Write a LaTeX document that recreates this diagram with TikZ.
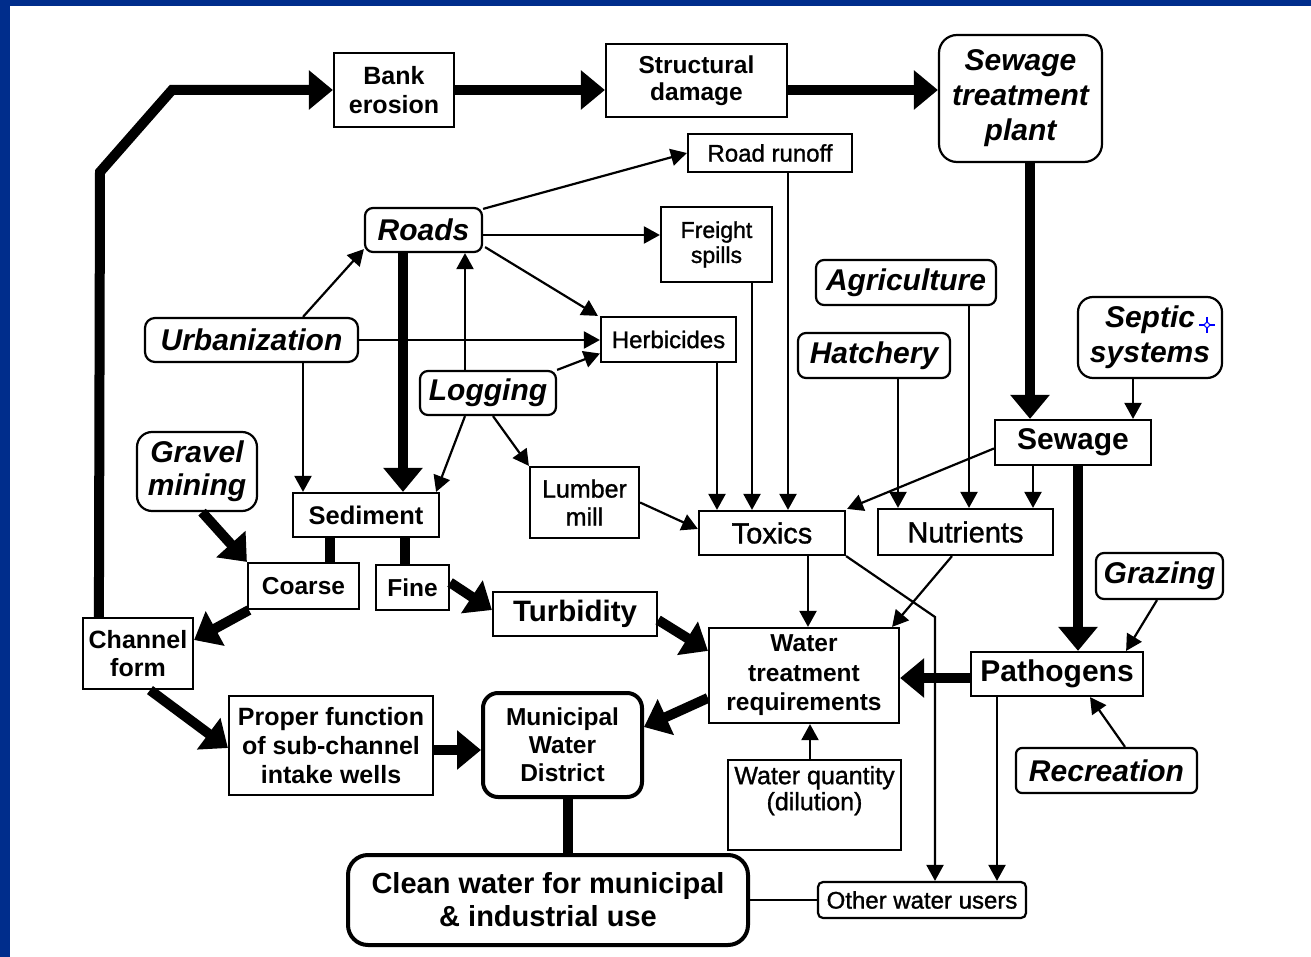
\documentclass[tikz,border=0pt]{standalone}
\usepackage{fontspec}
\setmainfont{Liberation Sans}
\newfontfamily\medfont[FakeBold=1.2]{Liberation Sans}
\usetikzlibrary{arrows.meta,calc}
\definecolor{frameblue}{RGB}{0,45,140}
\newcommand\fsz[2]{\fontsize{#1}{#2}\selectfont}
\tikzset{
  box/.style={draw, line width=2.2pt, inner sep=0pt, align=center},
  rbox/.style={box, rounded corners=#1}, rbox/.default=8pt,
  rfont/.style={font=\fsz{24}{26}\medfont},
  ifont/.style={font=\fsz{30}{35}\bfseries\itshape},
  thinarr/.style={line width=2.2pt, -{Triangle[length=16pt,width=17pt]}},
  thickarr/.style={line width=10pt, line join=miter, -{Triangle[length=24pt,width=38pt]}},
  thinline/.style={line width=2.2pt},
  thickline/.style={line width=10pt},
}
\begin{document}
\begin{tikzpicture}[x=1pt,y=-1pt]
\fill[frameblue] (0,0) rectangle (1311,957);
\fill[white] (10,6) rectangle (1311,957);
\useasboundingbox (0,0) rectangle (1311,957);

% nodes
\node[box,font=\fsz{25}{29}\bfseries,minimum width=120pt,minimum height=74pt] (bank) at (394,90) {Bank\\erosion};
\node[box,font=\fsz{24.5}{27}\bfseries,minimum width=181pt,minimum height=73pt] (struct) at (696.5,80.5) {Structural\\damage};
\node[rbox=18pt,ifont,minimum width=163pt,minimum height=127pt] (stp) at (1020.5,98.5) {Sewage\\treatment\\plant};
\node[box,rfont,minimum width=164pt,minimum height=38pt] (runoff) at (770,153) {Road runoff};
\node[box,font=\fsz{23}{25}\medfont,minimum width=111pt,minimum height=75pt] (freight) at (716.5,244.5) {Freight\\spills};
\node[rbox=8pt,ifont,minimum width=117pt,minimum height=44pt] (roads) at (423.5,230) {Roads};
\node[rbox=10pt,ifont,minimum width=213pt,minimum height=44pt] (urban) at (251.5,340) {Urbanization};
\node[box,rfont,minimum width=135pt,minimum height=45pt] (herb) at (668.5,339.5) {Herbicides};
\node[rbox=8pt,ifont,minimum width=136pt,minimum height=44pt] (logging) at (488,393) {Logging};
\node[rbox=8pt,ifont,minimum width=180pt,minimum height=45pt] (agri) at (906,282.5) {Agriculture};
\node[rbox=8pt,ifont,minimum width=152pt,minimum height=45pt] (hatch) at (874,355.5) {Hatchery};
\node[rbox=15pt,ifont,minimum width=144pt,minimum height=81pt] (septic) at (1150,337.5) {Septic\\systems};
\node[rbox=15pt,font=\fsz{30}{33}\bfseries\itshape,minimum width=120pt,minimum height=79pt] (gravel) at (197,471.5) {Gravel\\mining};
\node[box,font=\fsz{25.5}{28}\bfseries,minimum width=146pt,minimum height=44pt] (sediment) at (366,515) {Sediment};
\node[box,font=\fsz{25}{28}\medfont,minimum width=109pt,minimum height=71pt] (lumber) at (584.5,502.5) {Lumber\\mill};
\node[box,font=\fsz{29}{32}\medfont,minimum width=146pt,minimum height=44pt] (toxics) at (772,533) {Toxics};
\node[box,font=\fsz{29}{32}\medfont,minimum width=175pt,minimum height=46pt] (nutrients) at (965.5,532) {Nutrients};
\node[box,font=\fsz{30}{33}\bfseries,minimum width=156pt,minimum height=45pt] (sewage) at (1073,442.5) {Sewage};
\node[box,font=\fsz{24.5}{28}\bfseries,minimum width=111pt,minimum height=46pt] (coarse) at (303.5,586) {Coarse};
\node[box,font=\fsz{24.5}{28}\bfseries,minimum width=73pt,minimum height=45pt] (fine) at (412.5,587.5) {Fine};
\node[box,font=\fsz{29.5}{32}\bfseries,minimum width=164pt,minimum height=44pt] (turb) at (575,614) {Turbidity};
\node[box,font=\fsz{25}{28}\bfseries,minimum width=110pt,minimum height=71pt] (channel) at (138,653.5) {Channel\\form};
\node[box,font=\fsz{24.5}{29.5}\bfseries,minimum width=190pt,minimum height=95pt] (wtr) at (804,675.5) {Water\\treatment\\requirements};
\node[rbox=8pt,ifont,minimum width=127pt,minimum height=46pt] (grazing) at (1159.5,576) {Grazing};
\node[box,font=\fsz{30}{33}\bfseries,minimum width=172pt,minimum height=44pt] (pathogens) at (1057,674) {Pathogens};
\node[rbox=6pt,ifont,minimum width=181pt,minimum height=45pt] (recreation) at (1106.5,770.5) {Recreation};
\node[box,font=\fsz{25}{29}\bfseries,minimum width=204pt,minimum height=99pt] (proper) at (331,745.5) {Proper function\\of sub-channel\\intake wells};
\node[rbox=15pt,line width=4pt,font=\fsz{24.5}{28}\bfseries,minimum width=159pt,minimum height=104pt] (mwd) at (562.5,745) {Municipal\\Water\\District};
\node[box,font=\fsz{25}{26}\medfont,minimum width=173pt,minimum height=90pt] (wq) at (814.5,805) {Water quantity\\(dilution)\\\strut};
\node[rbox=20pt,line width=4pt,font=\fsz{29}{33}\bfseries,minimum width=400pt,minimum height=90pt] (clean) at (548,900) {Clean water for municipal\\\& industrial use};
\node[rbox=5pt,rfont,minimum width=208pt,minimum height=36pt] (other) at (922,900) {Other water users};

% helper coordinates
\coordinate (c1) at (100,172);
\coordinate (c2) at (172,90);
\coordinate (c3) at (935,617);

% thick connectors
\draw[thickarr] ($(channel.north west)+(17,0)$) -- (c1) -- (c2) -- (bank.west);
\draw[thickarr] (bank.east) -- (bank.east -| struct.west);
\draw[thickarr] (struct.east |- bank.east) -- (bank.east -| stp.west);
\draw[thickarr] ($(stp.south)+(9.5,0)$) -- ($(sewage.north)+(-43,0)$);
\draw[thickarr] ($(roads.south)+(-20.5,0)$) -- ($(sediment.north)+(37,0)$);
\draw[thickarr] ($(gravel.south)+(5,0)$) -- (coarse.north west);
\draw[thickline] ($(sediment.south)+(-36,0)$) -- ($(coarse.north)+(26.5,0)$);
\draw[thickline] ($(sediment.south)+(39,0)$) -- ($(fine.north)+(-7.5,0)$);
\draw[thickarr] ($(fine.east)+(0,-5)$) -- ($(turb.west)+(0,-4)$);
\draw[thickarr] ($(coarse.south west)+(2,0)$) -- ($(channel.east)+(0,-13.5)$);
\draw[thickarr] ($(channel.south)+(12,0)$) -- ($(proper.west)+(0,2.5)$);
\draw[thickarr] ($(proper.east)+(0,4.5)$) -- ($(mwd.west)+(0,5)$);
\draw[thickarr] ($(turb.east)+(0,6)$) -- ($(wtr.north west)+(0,24)$);
\draw[thickarr] ($(wtr.west)+(0,22.5)$) -- ($(mwd.east)+(0,-18)$);
\draw[thickarr] ($(pathogens.west)+(0,4)$) -- ($(wtr.east)+(0,2.5)$);
\draw[thickarr] ($(sewage.south)+(5,0)$) -- ($(pathogens.north)+(21,0)$);
\draw[thickline] ($(mwd.south)+(5.5,0)$) -- ($(clean.north)+(20,0)$);

% thin connectors
\draw[thinarr] ($(septic.south)+(-17,0)$) -- ($(sewage.north)+(60,0)$);
\draw[thinarr] ($(sewage.south)+(-40,0)$) -- ($(nutrients.north)+(67.5,0)$);
\draw[thinarr] ($(sewage.west)+(0,6)$) -- ($(toxics.north east)+(1,-1)$);
\draw[thinarr] ($(hatch.south)+(24,0)$) -- ($(nutrients.north)+(-67.5,0)$);
\draw[thinarr] ($(agri.south)+(63,0)$) -- ($(nutrients.north)+(3.5,0)$);
\draw[thinarr] ($(herb.south)+(48.5,0)$) -- ($(toxics.north)+(-55,0)$);
\draw[thinarr] ($(freight.south)+(35.5,0)$) -- ($(toxics.north)+(-20,0)$);
\draw[thinarr] ($(runoff.south)+(18,0)$) -- ($(toxics.north)+(16,0)$);
\draw[thinarr] (lumber.east) -- ($(toxics.west)+(0,-4)$);
\draw[thinarr] ($(logging.south)+(5,0)$) -- (lumber.north west);
\draw[thinarr] ($(logging.south)+(-23,0)$) -- ($(sediment.north east)+(-4,0)$);
\draw[thinarr] ($(logging.north)+(-23,0)$) -- ($(roads.south)+(41.5,0)$);
\draw[thinarr] (logging.north east) -- ($(herb.west)+(0,14)$);
\draw[thinarr] (urban.east) -- (urban.east -| herb.west);
\draw[thinarr] ($(urban.north)+(51.5,0)$) -- ($(roads.south west)+(0,-4)$);
\draw[thinarr] ($(urban.south)+(51.5,0)$) -- ($(sediment.north)+(-63,0)$);
\draw[thinarr] ($(roads.north east)+(0,2)$) -- (runoff.west);
\draw[thinarr] ($(roads.east)+(0,5)$) -- ($(freight.west)+(0,-9.5)$);
\draw[thinarr] ($(roads.south east)+(2,-6)$) -- ($(herb.north west)+(-2,0)$);
\draw[thinarr] ($(toxics.south)+(36,0)$) -- ($(wtr.north)+(4,0)$);
\draw[thinarr] ($(nutrients.south)+(-13.5,0)$) -- ($(wtr.north east)+(-8,0)$);
\draw[thinarr] (toxics.south east) -- (c3) -- ($(other.north)+(13,0)$);
\draw[thinarr] ($(pathogens.south)+(-60,0)$) -- ($(other.north)+(75,0)$);
\draw[thinarr] ($(grazing.south)+(-2.5,0)$) -- ($(pathogens.north east)+(-18,0)$);
\draw[thinarr] ($(recreation.north)+(18.5,0)$) -- ($(pathogens.south)+(33,0)$);
\draw[thinarr] ($(wq.north)+(-4.5,0)$) -- ($(wtr.south)+(6,0)$);
\draw[thinline] (clean.east) -- (other.west);

% cursor mark
\draw[blue, line width=1.2pt] (1199,325) -- (1215,325) (1207,317) -- (1207,333);
\draw[blue, fill=white, line width=1pt] (1207,325) circle (2.5pt);
\end{tikzpicture}
\end{document}
